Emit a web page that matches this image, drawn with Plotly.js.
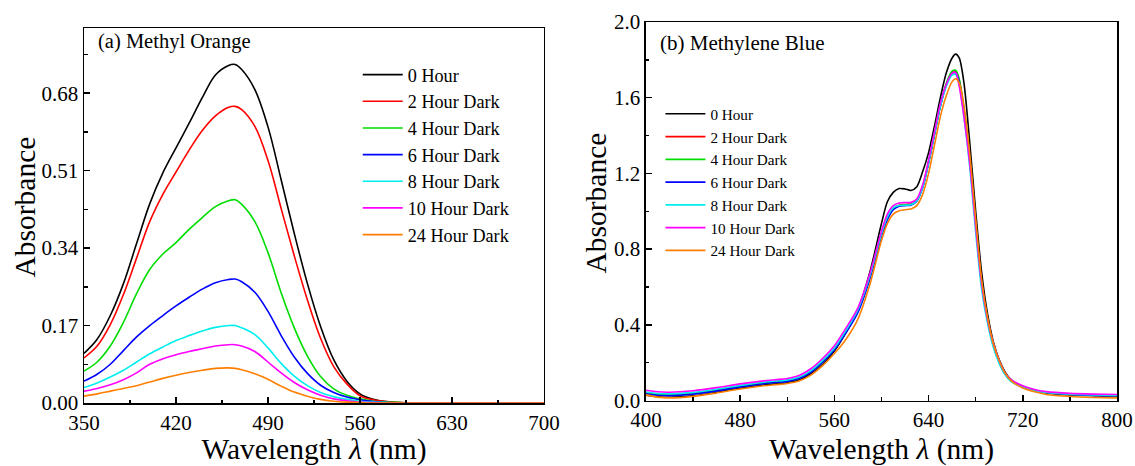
<!DOCTYPE html>
<html>
<head>
<meta charset="utf-8">
<script src="https://cdn.plot.ly/plotly-3.0.1.min.js"></script>
<style>html,body{margin:0;padding:0;background:#fff;}#chart{width:1135px;height:466px;}</style>
</head>
<body>
<div id="chart"></div>
<script>
// ---------- (a) Methyl Orange ----------
const seriesNames = ["0 Hour","2 Hour Dark","4 Hour Dark","6 Hour Dark","8 Hour Dark","10 Hour Dark","24 Hour Dark"];
const seriesColors = ["#000000","#ff0000","#00dd00","#0000ff","#00eeee","#ff00ff","#ff7f00"];

const moWavelength = [350,360,370,380,390,400,410,420,430,440,450,460,465,470,480,490,500,510,520,530,540,550,560,570,580,590,600,650,700];
const mo0h  = [0.109,0.140,0.192,0.262,0.350,0.437,0.505,0.560,0.614,0.670,0.720,0.741,0.743,0.732,0.688,0.606,0.490,0.372,0.262,0.168,0.095,0.048,0.020,0.008,0.003,0.001,0,0,0];
const mo2h  = [0.099,0.125,0.172,0.238,0.318,0.398,0.458,0.507,0.555,0.598,0.630,0.649,0.651,0.644,0.607,0.532,0.427,0.323,0.226,0.142,0.080,0.042,0.016,0.007,0.003,0.001,0,0,0];
const mo4h  = [0.070,0.090,0.125,0.177,0.240,0.293,0.327,0.352,0.381,0.407,0.431,0.444,0.446,0.436,0.398,0.330,0.242,0.165,0.103,0.058,0.031,0.017,0.009,0.004,0.002,0.001,0,0,0];
const mo6h  = [0.048,0.063,0.085,0.115,0.145,0.170,0.192,0.213,0.232,0.250,0.264,0.271,0.272,0.266,0.243,0.201,0.148,0.101,0.065,0.039,0.023,0.013,0.007,0.003,0.001,0,0,0,0];
const mo8h  = [0.034,0.044,0.057,0.072,0.090,0.108,0.123,0.137,0.148,0.158,0.166,0.170,0.170,0.165,0.150,0.121,0.087,0.059,0.038,0.023,0.014,0.008,0.004,0.002,0.001,0,0,0,0];
const mo10h = [0.026,0.032,0.040,0.051,0.066,0.085,0.097,0.106,0.113,0.119,0.125,0.128,0.128,0.125,0.113,0.090,0.066,0.045,0.029,0.017,0.009,0.005,0.002,0.001,0,0,0,0,0];
const mo24h = [0.015,0.020,0.026,0.032,0.038,0.046,0.054,0.061,0.067,0.072,0.076,0.077,0.076,0.073,0.064,0.052,0.037,0.024,0.015,0.008,0.004,0.002,0.001,0,0,0,0,0,0];
const moTicks = [0,0.17,0.34,0.51,0.68];

// ---------- (b) Methylene Blue ----------
const mbWavelength = [400,410,420,440,460,480,500,510,520,530,540,550,560,570,580,590,600,605,610,615,620,625,630,635,640,645,650,655,660,663,666,670,675,680,685,690,695,700,705,710,720,730,740,760,780,800];
const mb0h  = [0.028,0.020,0.017,0.025,0.044,0.065,0.082,0.088,0.094,0.108,0.140,0.190,0.262,0.360,0.480,0.675,0.935,1.050,1.100,1.120,1.118,1.110,1.130,1.210,1.310,1.450,1.600,1.730,1.810,1.830,1.810,1.680,1.360,1.000,0.680,0.460,0.310,0.215,0.150,0.110,0.072,0.052,0.040,0.030,0.026,0.024];
const mb2h  = [0.040,0.032,0.030,0.038,0.055,0.076,0.093,0.099,0.105,0.120,0.153,0.206,0.272,0.368,0.475,0.650,0.875,0.965,1.015,1.032,1.036,1.038,1.058,1.130,1.260,1.410,1.560,1.670,1.735,1.738,1.690,1.530,1.270,0.930,0.620,0.430,0.295,0.205,0.142,0.105,0.072,0.053,0.042,0.032,0.028,0.026];
const mb4h  = [0.038,0.030,0.028,0.036,0.053,0.074,0.091,0.097,0.103,0.118,0.151,0.204,0.270,0.364,0.470,0.645,0.870,0.960,1.012,1.030,1.034,1.036,1.057,1.130,1.260,1.410,1.560,1.675,1.740,1.745,1.700,1.540,1.270,0.930,0.620,0.430,0.295,0.205,0.142,0.105,0.072,0.053,0.042,0.032,0.028,0.026];
const mb6h  = [0.036,0.028,0.026,0.034,0.051,0.072,0.089,0.095,0.101,0.116,0.149,0.202,0.268,0.360,0.466,0.640,0.865,0.955,1.008,1.026,1.030,1.032,1.053,1.125,1.255,1.405,1.555,1.665,1.728,1.732,1.685,1.530,1.265,0.925,0.615,0.425,0.292,0.203,0.140,0.104,0.072,0.053,0.042,0.032,0.027,0.025];
const mb8h  = [0.045,0.037,0.035,0.043,0.060,0.080,0.097,0.103,0.109,0.124,0.158,0.212,0.278,0.372,0.480,0.655,0.880,0.970,1.018,1.030,1.032,1.034,1.055,1.125,1.255,1.405,1.555,1.660,1.720,1.722,1.670,1.500,1.230,0.890,0.590,0.410,0.280,0.195,0.136,0.100,0.070,0.052,0.042,0.033,0.029,0.027];
const mb10h = [0.054,0.046,0.044,0.052,0.068,0.088,0.104,0.110,0.116,0.132,0.168,0.222,0.290,0.385,0.490,0.668,0.895,0.985,1.030,1.044,1.046,1.047,1.065,1.140,1.270,1.420,1.570,1.670,1.730,1.733,1.660,1.500,1.250,0.920,0.620,0.430,0.300,0.210,0.145,0.110,0.078,0.058,0.047,0.038,0.034,0.032];
const mb24h = [0.030,0.018,0.014,0.022,0.040,0.061,0.078,0.084,0.090,0.103,0.134,0.184,0.248,0.325,0.430,0.610,0.845,0.935,0.985,1.003,1.008,1.012,1.030,1.090,1.200,1.350,1.500,1.610,1.685,1.700,1.680,1.560,1.300,0.960,0.640,0.440,0.300,0.210,0.145,0.105,0.066,0.046,0.032,0.021,0.016,0.014];

const moSeries = [mo0h, mo2h, mo4h, mo6h, mo8h, mo10h, mo24h];
const mbSeries = [mb0h, mb2h, mb4h, mb6h, mb8h, mb10h, mb24h];

const serif = 'Liberation Serif';
const traces = [];
moSeries.forEach((ys, i) => {
  traces.push({x: moWavelength, y: ys, type: 'scatter', mode: 'lines', name: seriesNames[i],
    line: {color: seriesColors[i], width: 1.6, shape: 'spline', smoothing: 1},
    xaxis: 'x', yaxis: 'y', legend: 'legend'});
});
mbSeries.forEach((ys, i) => {
  traces.push({x: mbWavelength, y: ys, type: 'scatter', mode: 'lines', name: seriesNames[i],
    line: {color: seriesColors[i], width: 1.6, shape: 'spline', smoothing: 0.8},
    xaxis: 'x2', yaxis: 'y2', legend: 'legend2'});
});

function axisBase() {
  return {
    showline: true, mirror: true, linecolor: '#000', linewidth: 1.5,
    ticks: 'inside', ticklen: 6, tickwidth: 1.5, tickcolor: '#000',
    showgrid: false, zeroline: false, fixedrange: true,
    tickfont: {family: serif, size: 21, color: '#000'}
  };
}

const layout = {
  width: 1135, height: 466,
  margin: {l: 84, r: 18, t: 21.5, b: 62.5},
  paper_bgcolor: '#fff', plot_bgcolor: '#fff',
  font: {family: serif, color: '#000'},
  xaxis: Object.assign(axisBase(), {
    domain: [0, 0.4453], range: [350, 700], tick0: 350, dtick: 70,
    minor: {ticks: 'inside', dtick: 35, tick0: 350, ticklen: 3.5, tickwidth: 1.5, tickcolor: '#000'},
    title: {text: 'Wavelength <i>λ</i> (nm)', font: {family: serif, size: 29.5, color: '#000'}}
  }),
  yaxis: Object.assign(axisBase(), {
    domain: [0, 0.983], range: [0, 0.822], tickvals: moTicks, tickformat: '.2f',
    minor: {ticks: 'inside', dtick: 0.085, tick0: 0, ticklen: 3.5, tickwidth: 1.5, tickcolor: '#000'}
  }),
  xaxis2: Object.assign(axisBase(), {
    domain: [0.544, 1], range: [400, 800], tick0: 400, dtick: 80, anchor: 'y2',
    minor: {ticks: 'inside', dtick: 40, tick0: 400, ticklen: 3.5, tickwidth: 1.5, tickcolor: '#000'},
    title: {text: 'Wavelength <i>λ</i> (nm)', font: {family: serif, size: 29.5, color: '#000'}}
  }),
  yaxis2: Object.assign(axisBase(), {
    domain: [0.0065, 1], range: [0, 2.0], tick0: 0, dtick: 0.4, tickformat: '.1f', anchor: 'x2',
    minor: {ticks: 'inside', dtick: 0.2, tick0: 0, ticklen: 3.5, tickwidth: 1.5, tickcolor: '#000'}
  }),
  legend: {
    x: 0.265, y: 0.910, xanchor: 'left', yanchor: 'top', bgcolor: 'rgba(0,0,0,0)', borderwidth: 0,
    font: {family: serif, size: 18.2, color: '#000'}, itemwidth: 40, tracegroupgap: 0
  },
  legend2: {
    x: 0.558, y: 0.802, xanchor: 'left', yanchor: 'top', bgcolor: 'rgba(0,0,0,0)', borderwidth: 0,
    font: {family: serif, size: 15.2, color: '#000'}, itemwidth: 40, tracegroupgap: 0
  },
  showlegend: true,
  annotations: [
    {text: '(a) Methyl Orange', xref: 'paper', yref: 'paper', x: 0.0112, y: 0.950, xanchor: 'left', yanchor: 'middle',
     showarrow: false, font: {family: serif, size: 20.5, color: '#000'}},
    {text: '(b) Methylene Blue', xref: 'paper', yref: 'paper', x: 0.556, y: 0.946, xanchor: 'left', yanchor: 'middle',
     showarrow: false, font: {family: serif, size: 21, color: '#000'}},
    {text: 'Absorbance', xref: 'paper', yref: 'paper', x: -0.0571, y: 0.513, xanchor: 'center', yanchor: 'middle',
     textangle: -90, showarrow: false, font: {family: serif, size: 29.5, color: '#000'}},
    {text: 'Absorbance', xref: 'paper', yref: 'paper', x: 0.4947, y: 0.5236, xanchor: 'center', yanchor: 'middle',
     textangle: -90, showarrow: false, font: {family: serif, size: 29.5, color: '#000'}}
  ]
};

Plotly.newPlot('chart', traces, layout, {staticPlot: true, displayModeBar: false});
</script>
</body>
</html>
